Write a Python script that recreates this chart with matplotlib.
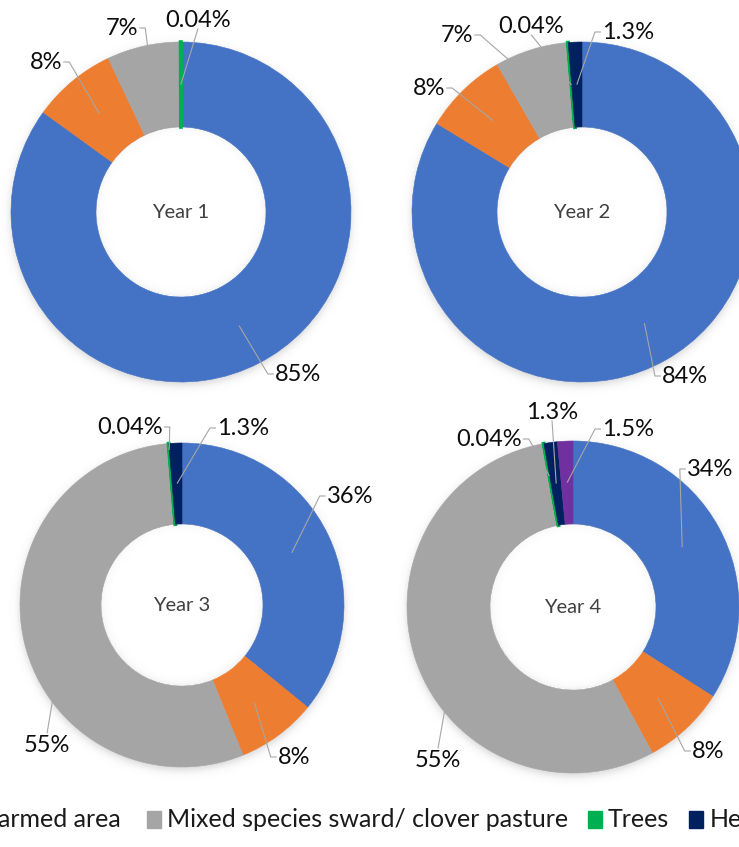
import numpy as np
import matplotlib
matplotlib.use('Agg')
import matplotlib.pyplot as plt
from matplotlib.patches import Rectangle

plt.rcParams['font.family'] = ['Lato', 'DejaVu Sans']

# land use shares (%) per year, clockwise from 12 o'clock
categories = ['Arable crops', 'Unfarmed area', 'Mixed species sward/ clover pasture',
              'Trees', 'Hedges', 'Wildflower margins']
colors = ['#4472C4', '#ED7D31', '#A5A5A5', '#00B050', '#002060', '#7030A0']
years = ['Year 1', 'Year 2', 'Year 3', 'Year 4']
year1 = [85, 8, 7, 0.04, 0, 0]
year2 = [84, 8, 7, 0.04, 1.3, 0]
year3 = [36, 8, 55, 0.04, 1.3, 0]
year4 = [34, 8, 55, 0.04, 1.3, 1.5]
shares = [year1, year2, year3, year4]

W, H = 739, 847

# layout in pixel coords (y down): donut centre, radius, label spots
centers = [(181, 212), (582, 212), (182, 605), (573, 607)]
radii = [170, 170, 162, 166]
# (x, y, side the leader leaves from, radius fraction where the leader ends)
label_spots = [
    [(298, 374, 'left', .75), (46, 62, 'right', .75), (122, 28, 'right', .75),
     (198, 20, 'bottom', .75)],
    [(685, 376, 'left', .75), (429, 88, 'right', .75), (457, 35, 'right', .75),
     (531, 26, 'bottom', .75), (628, 32, 'left', .75)],
    [(350, 496, 'left', .75), (294, 757, 'left', .75), (47, 745, 'top', .75),
     (130, 427, 'right', .96), (243, 428, 'left', .75)],
    [(710, 469, 'left', .75), (708, 751, 'left', .75), (438, 760, 'top', .75),
     (489, 439, 'right', .8), (552, 412, 'bottom', .75), (628, 429, 'left', .75)],
]


def Y(py):
    return H - py


fig = plt.figure(figsize=(W / 100, H / 100), dpi=100)
ax = fig.add_axes([0, 0, 1, 1])

# soft drop shadow behind the rings
gx, gy = np.meshgrid(np.arange(W) + 0.5, np.arange(H) + 0.5)
outer = np.zeros((H, W))
inner = np.zeros((H, W))
for (cx, cy), R in zip(centers, radii):
    d = np.hypot(gx - cx, gy - (cy + 3))
    a = 0.30 / (1 + np.exp((d - R) / 2.5))
    a[d < 0.75 * R] = 0
    outer = np.maximum(outer, a)
    d2 = np.hypot(gx - cx, gy - (cy - 1))
    b = 0.10 * np.exp(-(0.5 * R - d2) / 3.0)
    b[d2 > 0.5 * R] = 0
    inner = np.maximum(inner, b)
shadow = np.zeros((H, W, 4))
shadow[..., :3] = 0.45
shadow[..., 3] = outer
ax.imshow(shadow, extent=(0, W, 0, H), origin='upper', zorder=0, interpolation='bilinear')
hole = np.zeros((H, W, 4))
hole[..., :3] = 0.5
hole[..., 3] = inner
ax.imshow(hole, extent=(0, W, 0, H), origin='upper', zorder=3, interpolation='bilinear')

texts = []
for k in range(4):
    vals = shares[k]
    idx = [i for i, v in enumerate(vals) if v > 0]
    v = [vals[i] for i in idx]
    cx, cy = centers[k]
    R = radii[k]
    wedges, _ = ax.pie(v, colors=[colors[i] for i in idx], startangle=90,
                       counterclock=False, radius=R, center=(cx, Y(cy)),
                       wedgeprops=dict(width=0.5 * R))
    for w, val in zip(wedges, v):
        w.set_edgecolor(w.get_facecolor())
        w.set_linewidth(2.6 if val < 0.1 else 0.4)
        w.set_zorder(2)
    ax.text(cx, Y(cy), years[k], ha='center', va='center', fontsize=14.5,
            color='#404040', zorder=5)
    total = sum(v)
    cum = 0
    for val, (lx, ly, side, rf) in zip(v, label_spots[k]):
        th = np.deg2rad(90 - 360 * (cum + val / 2) / total)
        cum += val
        ex = cx + rf * R * np.cos(th)
        ey = Y(cy) + rf * R * np.sin(th)
        t = ax.text(lx, Y(ly), f'{val:g}%', ha='center', va='center', fontsize=17,
                    color='#0d0d0d', zorder=6)
        texts.append((t, side, ex, ey))

ax.set_xlim(0, W)
ax.set_ylim(0, H)
ax.set_aspect('auto')
ax.axis('off')

fig.canvas.draw()
rend = fig.canvas.get_renderer()
inv = ax.transData.inverted()


def box(t):
    bb = t.get_window_extent(rend)
    (x0, y0), (x1, y1) = inv.transform([[bb.x0, bb.y0], [bb.x1, bb.y1]])
    return x0, y0, x1, y1


# leader lines
for t, side, ex, ey in texts:
    x0, y0, x1, y1 = box(t)
    ym = (y0 + y1) / 2
    if side == 'left':
        xs, ys = [x0 - 1, x0 - 7, ex], [ym, ym, ey]
    elif side == 'right':
        xs, ys = [x1 + 1, x1 + 7, ex], [ym, ym, ey]
    elif side == 'top':
        xs, ys = [(x0 + x1) / 2, ex], [y1 + 1, ey]
    else:
        xs, ys = [(x0 + x1) / 2, ex], [y0 + 2, ey]
    ax.plot(xs, ys, color='#A6A6A6', lw=0.8, zorder=4, solid_capstyle='butt')

# legend row (runs off both edges of the picture)
leg_y = Y(819)
msize_w, msize_h = 14, 17
gap_m, gap_t = 6, 20
leg_fs = 18


def legend_item(i, mx):
    ax.add_patch(Rectangle((mx, leg_y - msize_h / 2), msize_w, msize_h,
                           color=colors[i], zorder=5, clip_on=False))
    t = ax.text(mx + msize_w + gap_m, leg_y, categories[i], ha='left', va='center',
                fontsize=leg_fs, color='#1a1a1a', clip_on=False)
    return box(t)[2]


x = 147
for i in range(2, 6):
    x = legend_item(i, x) + gap_t

x_right = 121
for i in [1, 0]:
    t = ax.text(x_right, leg_y, categories[i], ha='right', va='center', fontsize=leg_fs,
                color='#1a1a1a', clip_on=False)
    x0 = box(t)[0]
    mx = x0 - gap_m - msize_w
    ax.add_patch(Rectangle((mx, leg_y - msize_h / 2), msize_w, msize_h,
                           color=colors[i], zorder=5, clip_on=False))
    x_right = mx - gap_t

fig.savefig('out.png', dpi=100)
